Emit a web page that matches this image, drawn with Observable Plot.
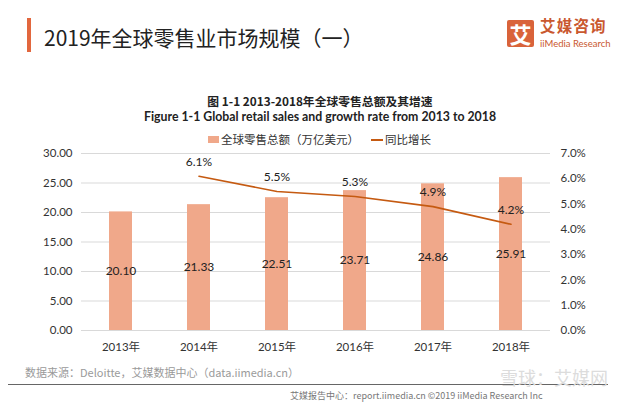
<!DOCTYPE html>
<html><head><meta charset="utf-8">
<script src="https://cdn.jsdelivr.net/npm/d3@7"></script>
<script src="https://cdn.jsdelivr.net/npm/@observablehq/plot@0.6"></script>
<style>
html,body{margin:0;padding:0;background:#fff;}
body{width:640px;height:404px;position:relative;overflow:hidden;font-family:"Noto Sans CJK SC","Noto Sans",sans-serif;}
.abs{position:absolute;white-space:nowrap;}
</style></head><body>
<div class="abs" style="left:27px;top:18px;width:4px;height:34px;background:#E2673E;"></div>
<div class="abs" id="title" style="left:44px;top:22px;font-size:21px;line-height:30px;color:#222;">2019年全球零售业市场规模（一）</div>
<div class="abs" style="left:507px;top:20px;width:27px;height:27px;background:#D9633A;border-radius:2px;color:#fff;font-size:22px;font-weight:bold;line-height:27px;text-align:center;">艾</div>
<div class="abs" style="left:540px;top:16px;font-size:15.5px;font-weight:bold;color:#C9582F;line-height:18px;letter-spacing:1.2px;">艾媒咨询</div>
<div class="abs" style="left:540px;top:38px;font-size:9.5px;color:#C9582F;line-height:11px;font-family:Lato,sans-serif;">iiMedia Research</div>

<div class="abs" style="left:0;width:640px;top:93.5px;text-align:center;font-size:11.8px;font-weight:bold;color:#222;line-height:13px;">图 1-1 2013-2018年全球零售总额及其增速</div>
<div class="abs" style="left:0;width:640px;top:110px;text-align:center;font-size:12.3px;font-weight:bold;color:#222;line-height:13px;font-family:Lato,'Noto Sans CJK SC',sans-serif;">Figure 1-1 Global retail sales and growth rate from 2013 to 2018</div>
<div class="abs" style="left:208px;top:136px;width:11px;height:7px;background:#F0A88A;"></div>
<div class="abs" style="left:221px;top:131px;font-size:11.5px;line-height:16px;color:#333;">全球零售总额（万亿美元）</div>
<div class="abs" style="left:371px;top:139px;width:12px;height:2px;background:#C55A11;"></div>
<div class="abs" style="left:385px;top:131px;font-size:11.5px;line-height:16px;color:#333;">同比增长</div>

<div id="chart" class="abs" style="left:0;top:145px;"></div>

<div class="abs" style="left:25px;top:365px;font-size:11px;line-height:15px;color:#9a9a9a;">数据来源：Deloitte，艾媒数据中心（data.iimedia.cn）</div>
<div class="abs" style="left:8px;top:384px;width:600px;height:1px;background:#666;"></div>
<div class="abs" style="left:500px;top:366px;font-size:18px;line-height:22px;color:#dcdcdc;">雪球：艾媒网</div>
<div class="abs" style="left:290px;top:390px;font-size:9px;line-height:12px;color:#777;">艾媒报告中心：report.iimedia.cn ©2019 iiMedia Research Inc</div>

<script>
const years = ["2013", "2014", "2015", "2016", "2017", "2018"];
const sales = [20.10, 21.33, 22.51, 23.71, 24.86, 25.91];
const growthYears = ["2014", "2015", "2016", "2017", "2018"];
const growth = [6.1, 5.5, 5.3, 4.9, 4.2];
const leftTicks = [0, 5, 10, 15, 20, 25, 30];
const rightTicks = [0, 1, 2, 3, 4, 5, 6, 7];

const k = 30 / 7;
const bars = years.map((y, i) => ({year: y, v: sales[i]}));
const gdata = growthYears.map((y, i) => ({year: y, g: growth[i]}));
const font = "Lato, 'Noto Sans CJK SC', sans-serif";

const chart = Plot.plot({
  width: 640, height: 215,
  marginTop: 8, marginBottom: 30, marginLeft: 81, marginRight: 90,
  style: {fontFamily: font, fontSize: "11.5px", color: "#333", background: "transparent"},
  x: {domain: years, paddingInner: 0.7, paddingOuter: 0.35, label: null},
  y: {domain: [0, 30], label: null},
  marks: [
    Plot.gridY(leftTicks, {stroke: "#d9d9d9", strokeOpacity: 1}),
    Plot.barY(bars, {x: "year", y: "v", fill: "#F0A88A"}),
    Plot.text(bars, {x: "year", y: d => d.v / 2, text: d => d.v.toFixed(2), fill: "#222", fontSize: 12}),
    Plot.line(gdata, {x: "year", y: d => d.g * k, stroke: "#C55A11", strokeWidth: 1.6}),
    Plot.text(gdata, {x: "year", y: d => d.g * k, text: d => d.g.toFixed(1) + "%", dy: -14, fill: "#222", fontSize: 12}),
    Plot.axisY(leftTicks, {anchor: "left", tickSize: 0, tickPadding: 9, tickFormat: d => d.toFixed(2), label: null}),
    Plot.axisY(rightTicks.map(t => t * k), {anchor: "right", tickSize: 0, tickPadding: 10, tickFormat: d => (d / k).toFixed(1) + "%", label: null}),
    Plot.axisX({tickSize: 0, tickPadding: 12, tickFormat: d => d + "年", label: null})
  ]
});
document.getElementById("chart").appendChild(chart);
</script>
</body></html>
